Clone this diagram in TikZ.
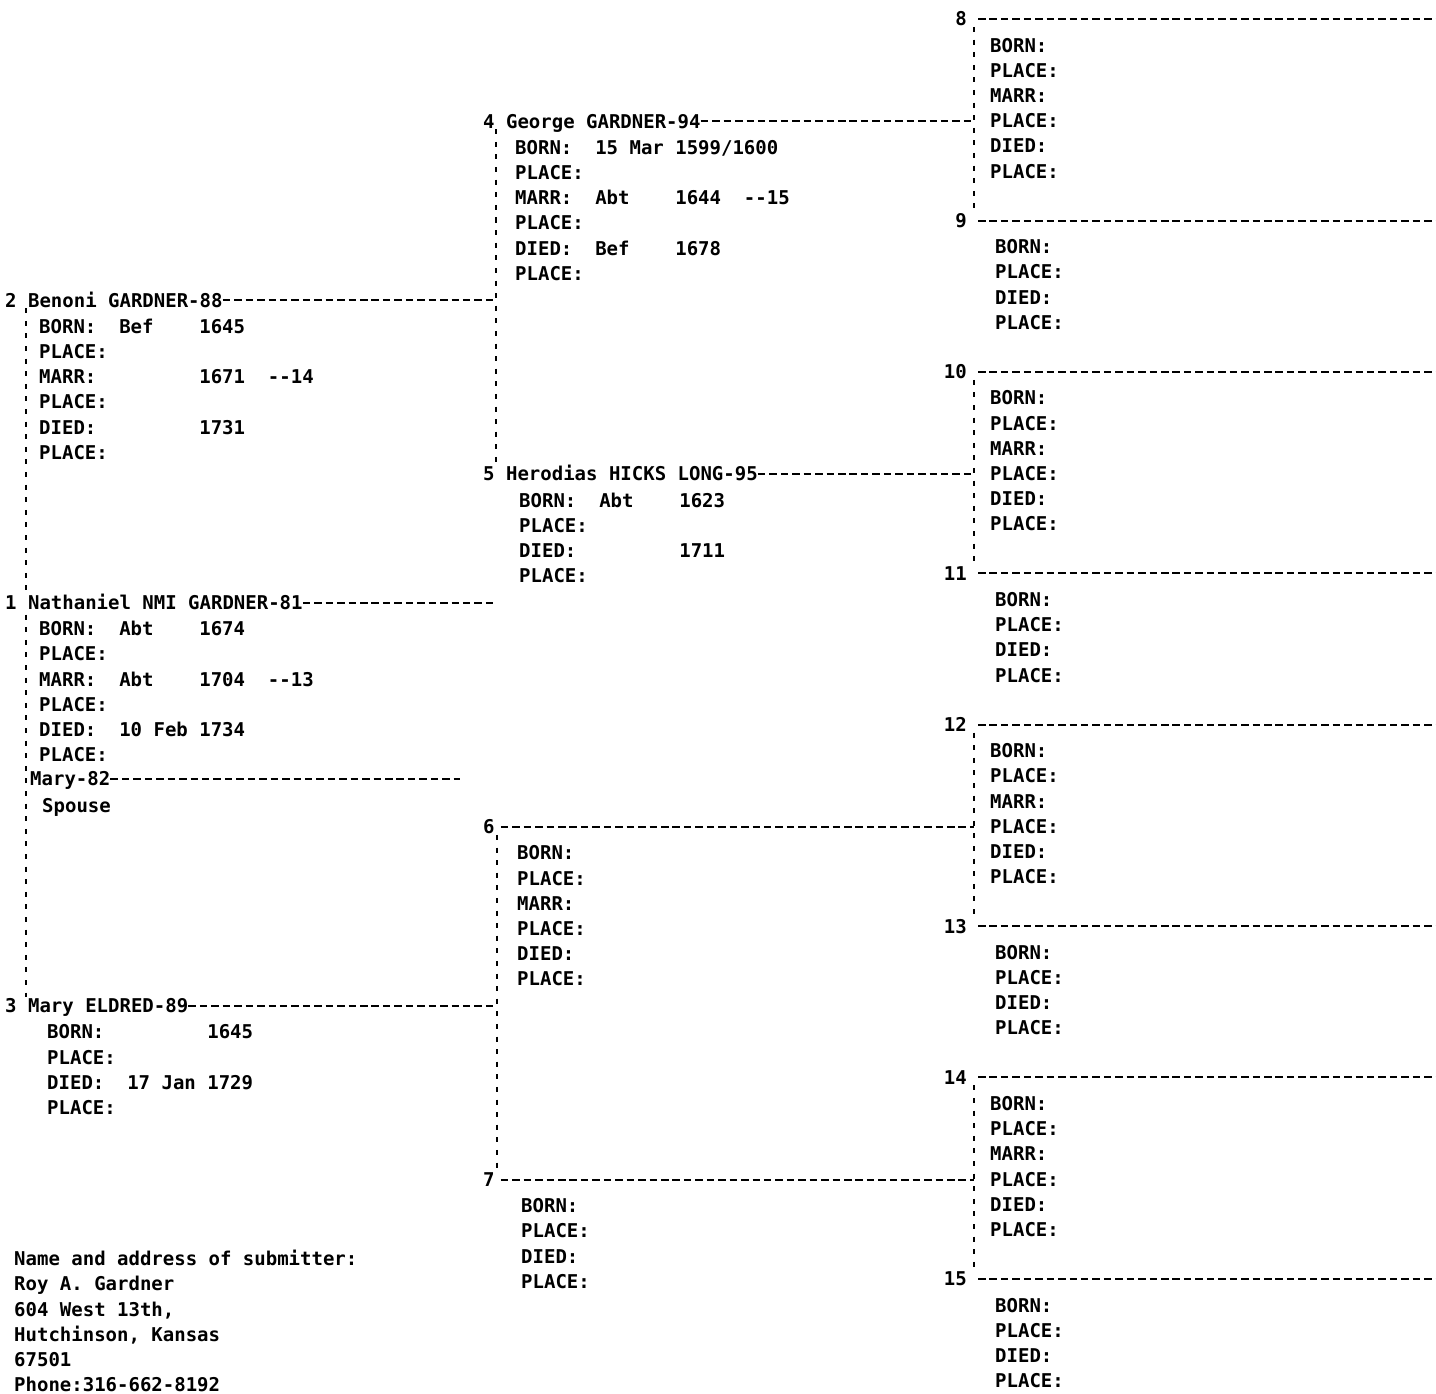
\documentclass[tikz,border=0pt]{standalone}
\usepackage{fontspec}
\newfontfamily\monofam{DejaVu Sans Mono}
\usetikzlibrary{calc}
\begin{document}
\begin{tikzpicture}[x=1pt,y=-1pt,
  t/.style={anchor=west,inner sep=0pt,text height=13.7pt,text depth=0pt,font=\monofam\bfseries\fontsize{19}{22}\selectfont},
  tr/.style={t,anchor=east},
  hd/.style={line width=2pt,dash pattern=on 7.5pt off 3.94pt},
  vd/.style={line width=1.8pt,dash pattern=on 5pt off 7.6pt}]
\fill[white] (0,0) rectangle (1436,1394);
\useasboundingbox (0,0) rectangle (1436,1394);
% bracket x positions and free ends
\coordinate (lx) at (26,0);
\coordinate (mx) at (496,0);
\coordinate (mxb) at (497,0);
\coordinate (rx) at (974,0);
\coordinate (e1) at (493,0);
\coordinate (e82) at (460,0);
\coordinate (edge) at (1436,0);

% ---------- left column ----------
\node[t] (p2) at (5,23+25.2*11) {2 Benoni GARDNER-88};
\foreach \f [count=\i] in {BORN:~~Bef~~~~1645,PLACE:,MARR:~~~~~~~~~1671~~-{}-14,PLACE:,DIED:~~~~~~~~~1731,PLACE:}
  \node[t] (f2-\i) at (39,24+25.2*11+25.2*\i) {\f};
\node[t] (p1) at (5,23+25.2*23) {1 Nathaniel NMI GARDNER-81};
\foreach \f [count=\i] in {BORN:~~Abt~~~~1674,PLACE:,MARR:~~Abt~~~~1704~~-{}-13,PLACE:,DIED:~~10~Feb~1734,PLACE:}
  \node[t] (f1-\i) at (39,24+25.2*23+25.2*\i) {\f};
\node[t] (s1) at (30,23+25.2*30) {Mary-82};
\node[t] (s1b) at (42,24+25.2*31) {Spouse};
\node[t] (p3) at (5,23+25.2*39) {3 Mary ELDRED-89};
\foreach \f [count=\i] in {BORN:~~~~~~~~~1645,PLACE:,DIED:~~17~Jan~1729,PLACE:}
  \node[t] (f3-\i) at (47,24+25.2*39+25.2*\i) {\f};

% submitter
\node[t] (sub1) at (14,24+25.2*49) {Name and address of submitter:};
\node[t] (sub2) at (14,24+25.2*50) {Roy A. Gardner};
\node[t] (sub3) at (14,24+25.2*51) {604 West 13th,};
\node[t] (sub4) at (14,24+25.2*52) {Hutchinson, Kansas};
\node[t] (sub5) at (14,24+25.2*53) {67501};
\node[t] (sub6) at (14,24+25.2*54) {Phone:316-662-8192};

% ---------- middle column ----------
\node[t] (p4) at (483,20.5+25.2*4) {4 George GARDNER-94};
\foreach \f [count=\i] in {BORN:~~15~Mar~1599/1600,PLACE:,MARR:~~Abt~~~~1644~~-{}-15,PLACE:,DIED:~~Bef~~~~1678,PLACE:}
  \node[t] (f4-\i) at (515,21.5+25.2*4+25.2*\i) {\f};
\node[t] (p5) at (483,20.5+25.2*18) {5 Herodias HICKS LONG-95};
\foreach \f [count=\i] in {BORN:~~Abt~~~~1623,PLACE:,DIED:~~~~~~~~~1711,PLACE:}
  \node[t] (f5-\i) at (519,21.5+25.2*18+25.2*\i) {\f};
\node[t] (p6) at (483,20.5+25.2*32) {6};
\foreach \f [count=\i] in {BORN:,PLACE:,MARR:,PLACE:,DIED:,PLACE:}
  \node[t] (f6-\i) at (517,21.5+25.2*32+25.2*\i) {\f};
\node[t] (p7) at (483,20.5+25.2*46) {7};
\foreach \f [count=\i] in {BORN:,PLACE:,DIED:,PLACE:}
  \node[t] (f7-\i) at (521,21.5+25.2*46+25.2*\i) {\f};

% ---------- right column ----------
\foreach \n/\r in {8/0,10/14,12/28,14/42}{
  \node[tr] (p\n) at (967,19+25.2*\r) {\n};
  \draw[hd] ([xshift=11pt]p\n.east) -- (p\n.east -| edge);
  \foreach \f [count=\i] in {BORN:,PLACE:,MARR:,PLACE:,DIED:,PLACE:}
    \node[t] (f\n-\i) at (990,20+25.2*\r+25.2*\i) {\f};
}
\foreach \n/\r in {9/8,11/22,13/36,15/50}{
  \node[tr] (p\n) at (967,19+25.2*\r) {\n};
  \draw[hd] ([xshift=11pt]p\n.east) -- (p\n.east -| edge);
  \foreach \f [count=\i] in {BORN:,PLACE:,DIED:,PLACE:}
    \node[t] (f\n-\i) at (995,20+25.2*\r+25.2*\i) {\f};
}

% ---------- brackets ----------
\draw[vd] ($(p2.center -| lx)+(0,8)$) -- ($(p1.center -| lx)+(0,-11)$);
\draw[vd] ($(p1.center -| lx)+(0,12)$) -- ($(p3.center -| lx)+(0,-9)$);
\draw[vd] ($(p4.center -| mx)+(0,8)$) -- ($(p5.center -| mx)+(0,-8)$);
\draw[vd] ($(p6.center -| mxb)+(0,8)$) -- ($(p7.center -| mxb)+(0,-8)$);
\foreach \a/\b in {8/9,10/11,12/13,14/15}
  \draw[vd] ($(p\a.center -| rx)+(0,8)$) -- ($(p\b.center -| rx)+(0,-7)$);

% ---------- connectors ----------
\draw[hd] (p2.east) -- (p2.east -| mx);
\draw[hd] (p1.east) -- (p1.east -| e1);
\draw[hd] (s1.east) -- (s1.east -| e82);
\draw[hd] (p3.east) -- (p3.east -| mxb);
\draw[hd] (p4.east) -- (p4.east -| rx);
\draw[hd] (p5.east) -- (p5.east -| rx);
\draw[hd] ([xshift=6pt]p6.east) -- (p6.east -| rx);
\draw[hd] ([xshift=6pt]p7.east) -- (p7.east -| rx);
\end{tikzpicture}
\end{document}
